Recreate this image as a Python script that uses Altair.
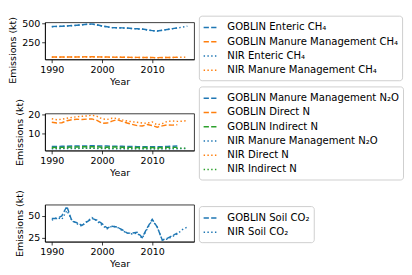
import altair as alt
import pandas as pd

# ---------------- data ----------------
years_nir = list(range(1990, 2018))
years_goblin = list(range(1990, 2016))

# Panel 1: CH4
goblin_enteric_ch4 = [458, 460, 462, 465, 470, 475, 480, 488, 490, 480, 465, 455, 445,
                      442, 440, 438, 432, 428, 425, 415, 405, 400, 410, 420, 430, 440]
goblin_manure_ch4 = [62, 62, 63, 63, 64, 64, 65, 66, 66, 65, 63, 62, 61,
                     60, 60, 59, 58, 58, 57, 57, 56, 55, 56, 57, 58, 59]
nir_enteric_ch4 = [455, 458, 460, 463, 468, 473, 480, 486, 489, 478, 463, 452, 443, 440,
                   438, 436, 430, 426, 423, 413, 403, 398, 408, 418, 428, 438, 450, 462]
nir_manure_ch4 = [60, 60, 61, 61, 62, 62, 63, 64, 64, 63, 62, 61, 60, 59,
                  59, 58, 57, 57, 56, 56, 55, 54, 55, 56, 57, 58, 60, 62]

# Panel 2: N2O / N
goblin_manure_n2o = [3.1, 3.1, 3.2, 3.2, 3.3, 3.3, 3.4, 3.4, 3.5, 3.4, 3.3, 3.3, 3.2,
                     3.2, 3.2, 3.1, 3.1, 3.0, 3.0, 3.0, 2.9, 2.9, 3.0, 3.1, 3.2, 3.3]
goblin_direct_n = [16.0, 15.6, 15.8, 16.8, 17.4, 17.6, 17.5, 17.7, 17.8, 17.0, 15.5, 15.6, 16.6,
                   17.4, 16.5, 15.6, 14.9, 14.2, 14.0, 14.8, 14.3, 13.4, 14.1, 14.6, 14.5, 14.7]
goblin_indirect_n = [2.6, 2.5, 2.6, 2.7, 2.8, 2.8, 2.9, 2.9, 3.0, 2.9, 2.7, 2.7, 2.8,
                     2.8, 2.7, 2.6, 2.6, 2.5, 2.5, 2.5, 2.5, 2.4, 2.5, 2.6, 2.6, 2.6]
nir_manure_n2o = [1.9, 1.9, 1.9, 2.0, 2.0, 2.0, 2.1, 2.1, 2.1, 2.0, 2.0, 1.9, 1.9, 1.9,
                  1.9, 1.9, 1.8, 1.8, 1.8, 1.8, 1.8, 1.8, 1.8, 1.9, 1.9, 1.9, 2.0, 2.0]
nir_direct_n = [17.9, 17.4, 17.6, 18.2, 18.6, 19.0, 19.2, 19.4, 19.8, 19.2, 17.9, 17.5, 18.2, 18.1,
                17.3, 16.7, 16.3, 16.0, 15.6, 15.5, 16.2, 14.6, 15.3, 16.5, 16.7, 16.5, 16.6, 16.9]
nir_indirect_n = [2.1, 2.1, 2.1, 2.2, 2.2, 2.2, 2.3, 2.3, 2.3, 2.2, 2.1, 2.1, 2.1, 2.1,
                  2.1, 2.0, 2.0, 2.0, 2.0, 2.0, 2.0, 1.9, 2.0, 2.0, 2.1, 2.1, 2.1, 2.1]

# Panel 3: Soil CO2
goblin_soil_co2 = [47, 47, 50, 61, 44, 42, 39, 43, 47, 45, 41, 36, 38,
                   37, 34, 30, 30, 31, 25, 36, 46, 37, 22, 24, 27, 30]
nir_soil_co2 = [45, 48, 46, 56, 45, 41, 38, 44, 48, 44, 39, 35, 38, 37,
                33, 30, 29, 30, 24, 35, 45, 37, 22, 23, 26, 29, 34, 37]

x_ticks = [1990, 2000, 2010]

# ---------------- styles ----------------
BLUE, ORANGE, GREEN = "#1f77b4", "#ff7f0e", "#2ca02c"
DASHED = [5.55, 2.4]
DOTTED = [1.5, 2.475]
FONT = "DejaVu Sans"
PW, PH = 157, 39


def make_df(series):
    rows = []
    for name, yrs, vals in series:
        for yr, v in zip(yrs, vals):
            rows.append({"Year": yr, "value": v, "series": name})
    return pd.DataFrame(rows)


def panel(series, colors, dashes, yticks, legend_y, title_y=None):
    df = make_df(series)
    order = [s[0] for s in series]
    lo, hi = df["value"].min(), df["value"].max()
    m = (hi - lo) * 0.05
    yaxis_kw = dict(values=yticks, title="Emissions (kt)", titlePadding=4)
    if title_y is not None:
        yaxis_kw["titleY"] = title_y
    legend = alt.Legend(
        title=None, orient="none", legendX=PW + 5, legendY=legend_y,
        fillColor="white", strokeColor="#cccccc", cornerRadius=3, padding=4,
        labelFont=FONT, labelFontSize=10.6, labelColor="black", labelLimit=400,
        symbolType="stroke", symbolStrokeWidth=1.5, symbolSize=225,
        rowPadding=0, labelOffset=9,
    )
    return alt.Chart(df).mark_line(strokeWidth=1.5).encode(
        x=alt.X("Year:Q",
                scale=alt.Scale(domain=[1988.65, 2018.35], nice=False, zero=False),
                axis=alt.Axis(values=x_ticks, format="d", title="Year")),
        y=alt.Y("value:Q",
                scale=alt.Scale(domain=[lo - m, hi + m], nice=False, zero=False),
                axis=alt.Axis(**yaxis_kw)),
        color=alt.Color("series:N", scale=alt.Scale(domain=order, range=colors), legend=legend),
        strokeDash=alt.StrokeDash("series:N", scale=alt.Scale(domain=order, range=dashes), legend=legend),
    ).properties(width=PW, height=PH)


p1 = panel(
    [("GOBLIN Enteric CH₄", years_goblin, goblin_enteric_ch4),
     ("GOBLIN Manure Management CH₄", years_goblin, goblin_manure_ch4),
     ("NIR Enteric CH₄", years_nir, nir_enteric_ch4),
     ("NIR Manure Management CH₄", years_nir, nir_manure_ch4)],
    [BLUE, ORANGE, BLUE, ORANGE], [DASHED, DASHED, DOTTED, DOTTED],
    [250, 500], legend_y=-7, title_y=29,
)
p2 = panel(
    [("GOBLIN Manure Management N₂O", years_goblin, goblin_manure_n2o),
     ("GOBLIN Direct N", years_goblin, goblin_direct_n),
     ("GOBLIN Indirect N", years_goblin, goblin_indirect_n),
     ("NIR Manure Management N₂O", years_nir, nir_manure_n2o),
     ("NIR Direct N", years_nir, nir_direct_n),
     ("NIR Indirect N", years_nir, nir_indirect_n)],
    [BLUE, ORANGE, GREEN, BLUE, ORANGE, GREEN],
    [DASHED, DASHED, DASHED, DOTTED, DOTTED, DOTTED],
    [10, 20], legend_y=-28.5,
)
p3 = panel(
    [("GOBLIN Soil CO₂", years_goblin, goblin_soil_co2),
     ("NIR Soil CO₂", years_nir, nir_soil_co2)],
    [BLUE, BLUE], [DASHED, DOTTED],
    [25, 50], legend_y=1.5,
)

chart = alt.vconcat(p1, p2, p3, spacing=57, bounds="flush").resolve_scale(
    x="independent", y="independent", color="independent", strokeDash="independent"
).resolve_legend(color="independent", strokeDash="independent").properties(
    padding=0
).configure_view(
    stroke="black", strokeWidth=0.8
).configure_axis(
    grid=False, domainColor="black", tickColor="black", labelColor="black",
    titleColor="black", labelFont=FONT, titleFont=FONT, labelFontSize=10,
    titleFontSize=10, titleFontWeight="normal", tickSize=3.5, domainWidth=0.8,
    tickWidth=0.8, labelPadding=2, titlePadding=3,
)

chart.save("out.html", embed_options={"renderer": "svg", "actions": False})
